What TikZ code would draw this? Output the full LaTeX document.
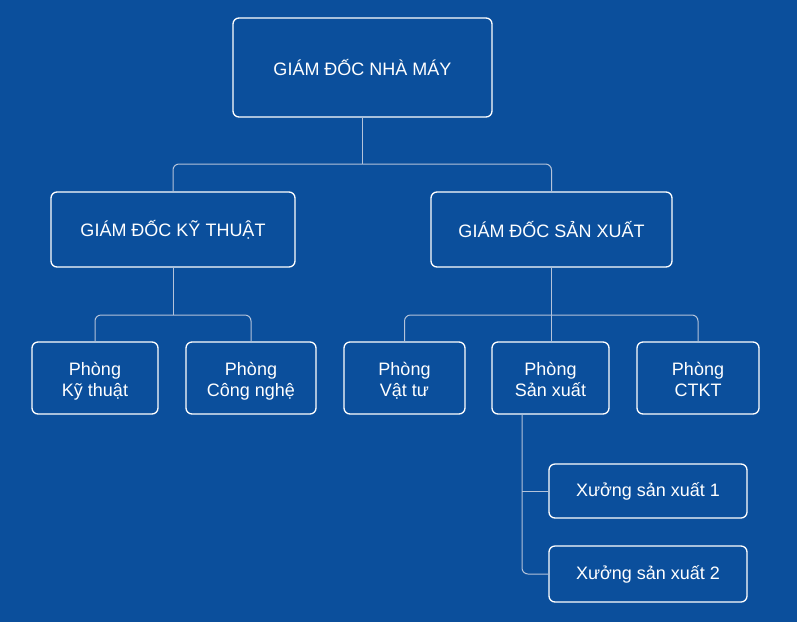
\documentclass[tikz,border=0pt]{standalone}
\usepackage{fontspec}
\setmainfont{Liberation Sans}
\definecolor{bgblue}{HTML}{0B4F9C}
\definecolor{connc}{HTML}{B4C3DA}
\newcommand\topstrut{\rule{0pt}{20pt}}
\newcommand\botstrut{\rule[-5pt]{0pt}{5pt}}
\begin{document}
\begin{tikzpicture}[x=1pt,y=-1pt,
  box/.style={draw=white, line width=1.3pt, rounded corners=6pt, text=white, align=center,
    inner sep=0pt, font=\fontsize{18}{21}\selectfont},
  conn/.style={draw=connc, line width=1pt, rounded corners=6pt}]
\fill[bgblue] (0,0) rectangle (797,622);
\useasboundingbox (0,0) rectangle (797,622);
\node[box, minimum width=259pt, minimum height=99pt] (top) at (362.5,67.5) {GIÁM ĐỐC NHÀ MÁY};
\node[box, minimum width=244pt, minimum height=75pt] (kt) at (173,229.5) {GIÁM ĐỐC KỸ THUẬT};
\node[box, minimum width=241pt, minimum height=75pt] (sx) at (551.5,229.5) {GIÁM ĐỐC SẢN XUẤT};
\node[box, minimum width=126pt, minimum height=72pt] (p1) at (95,378) {\topstrut Phòng\\Kỹ thuật\botstrut};
\node[box, minimum width=130pt, minimum height=72pt] (p2) at (251,378) {\topstrut Phòng\\Công nghệ\botstrut};
\node[box, minimum width=121pt, minimum height=72pt] (p3) at (404.5,378) {\topstrut Phòng\\Vật tư\botstrut};
\node[box, minimum width=117pt, minimum height=72pt] (p4) at (550.5,378) {\topstrut Phòng\\Sản xuất\botstrut};
\node[box, minimum width=122pt, minimum height=72pt] (p5) at (698,378) {\topstrut Phòng\\CTKT\botstrut};
\node[box, minimum width=198pt, minimum height=54pt] (x1) at (648,491) {Xưởng sản xuất 1};
\node[box, minimum width=198pt, minimum height=56pt] (x2) at (648,574) {Xưởng sản xuất 2};
\coordinate (b1) at (362,164);
\coordinate (b2) at (0,315);
\coordinate (v) at (522,0);
\draw[conn] (top.south -| b1) -- (b1);
\draw[conn] (kt.north) |- (sx.north |- b1) -- (sx.north);
\draw[conn] (kt.south) -- (kt.south |- b2);
\draw[conn] (p1.north) |- (p2.north |- b2) -- (p2.north);
\draw[conn] (sx.south) -- (sx.south |- p4.north);
\draw[conn] (p3.north) |- (p5.north |- b2) -- (p5.north);
\draw[conn] (p4.south -| v) |- (x2.west);
\draw[conn] (x1.west -| v) -- (x1.west);
\end{tikzpicture}
\end{document}
